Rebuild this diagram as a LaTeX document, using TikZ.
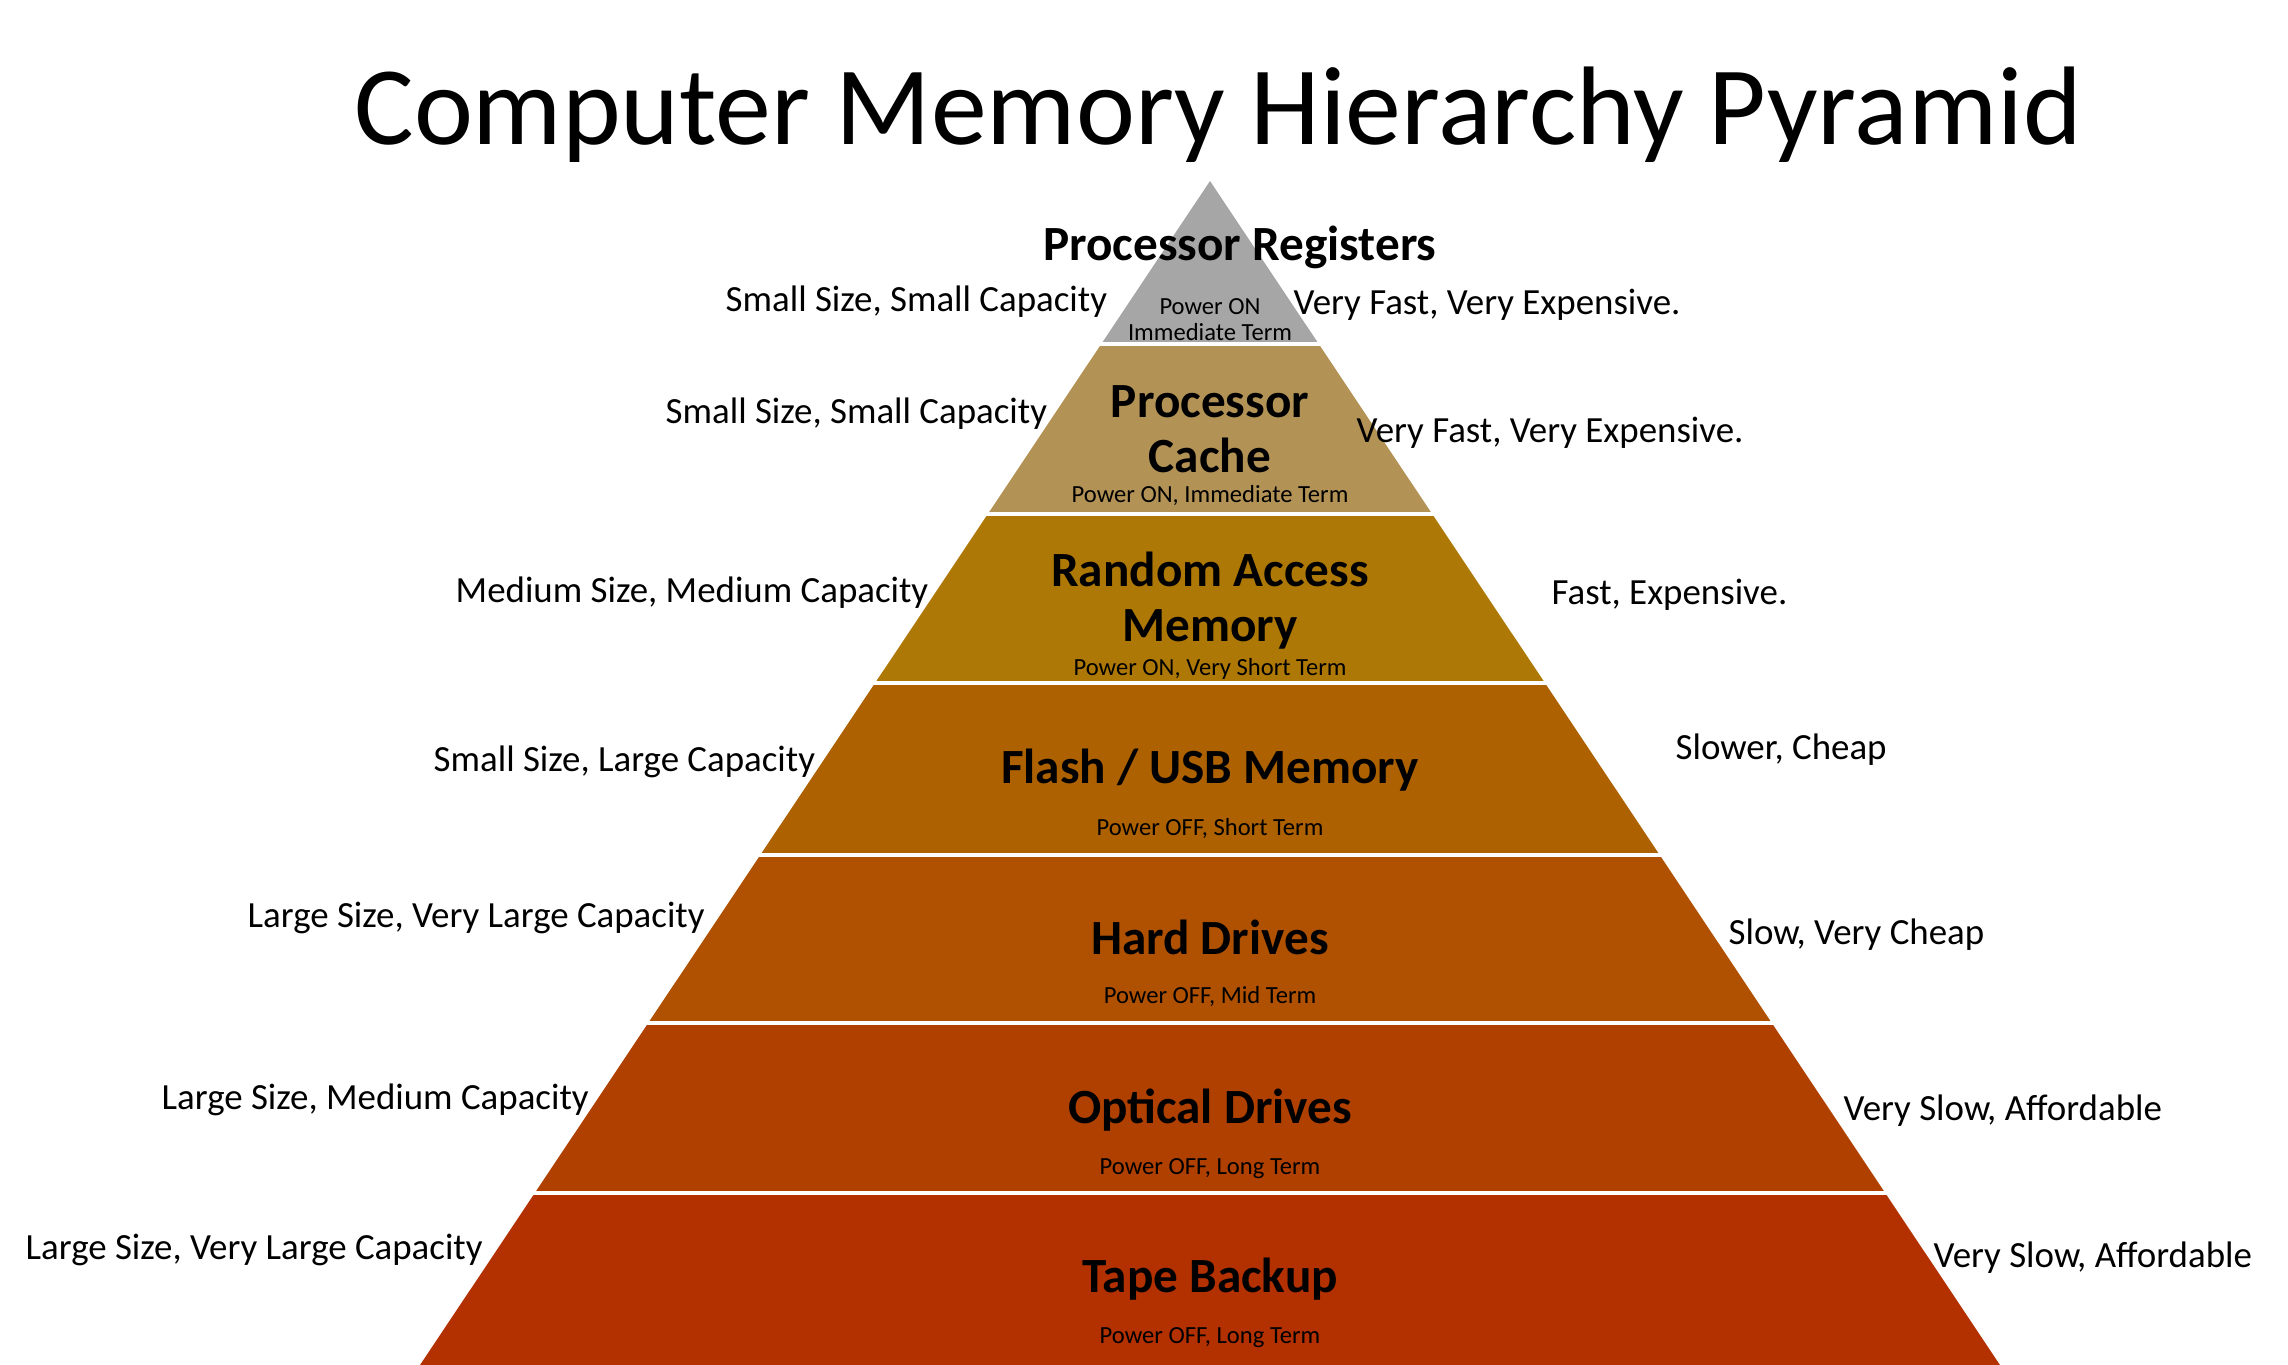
\documentclass[tikz,border=0pt]{standalone}
\usepackage{fontspec}
\setmainfont{Carlito}
\usepackage{xcolor}
\usetikzlibrary{positioning, calc}

\definecolor{regcol}{HTML}{A6A6A6}
\definecolor{cachecol}{HTML}{B39355}
\definecolor{ramcol}{HTML}{AE7806}
\definecolor{flashcol}{HTML}{AE6101}
\definecolor{hddcol}{HTML}{AF5100}
\definecolor{opticalcol}{HTML}{B04000}
\definecolor{tapecol}{HTML}{B33000}

\begin{document}
\begin{tikzpicture}[
  x=1cm, y=-1cm,
  titlelabel/.style={font=\fontsize{31.8}{38}\selectfont, inner sep=0pt, anchor=base},
  layerlabel/.style={font=\fontsize{14}{15.4}\selectfont\bfseries,
    align=center, inner sep=0pt, anchor=base},
  termlabel/.style={font=\fontsize{7}{7.3}\selectfont,
    align=center, inner sep=0pt, anchor=base},
  sidelabel/.style={font=\fontsize{10.5}{12}\selectfont,
    inner sep=0pt, anchor=base west},
  gapline/.style={draw=white, line width=0.9pt}
]
\useasboundingbox (0,0) rectangle (22.88,13.65);

%% ==== Pyramid bands ====
\foreach \t/\b/\c in {1.81/3.44/regcol, 3.44/5.14/cachecol, 5.14/6.83/ramcol,
    6.83/8.55/flashcol, 8.55/10.23/hddcol, 10.23/11.93/opticalcol, 11.93/13.65/tapecol}
  \fill[\c] ({12.10-(\t-1.81)*0.6672}, \t) -- ({12.10+(\t-1.81)*0.6672}, \t)
    -- ({12.10+(\b-1.81)*0.6672}, \b) -- ({12.10-(\b-1.81)*0.6672}, \b) -- cycle;

%% ==== White gaps between bands ====
\foreach \y in {3.44, 5.14, 6.83, 8.55, 10.23, 11.93}
  \draw[gapline] ({12.05-(\y-1.81)*0.6672}, \y) -- ({12.15+(\y-1.81)*0.6672}, \y);

%% ==== Title ====
\node[titlelabel] (title) at (12.18, 1.44) {Computer Memory Hierarchy Pyramid};

%% ==== Layer labels (base = last line) ====
\node[layerlabel] (regs)        at (12.40, 2.60)  {Processor Registers};
\node[termlabel]  (regsterm)    at (12.10, 3.40)  {Power ON\\Immediate Term};
\node[layerlabel] (cache)       at (12.10, 4.72)  {Processor\\Cache};
\node[termlabel]  (cacheterm)   at (12.10, 5.02)  {Power ON, Immediate Term};
\node[layerlabel] (ram)         at (12.10, 6.41)  {Random Access\\Memory};
\node[termlabel]  (ramterm)     at (12.10, 6.75)  {Power ON, Very Short Term};
\node[layerlabel] (flash)       at (12.10, 7.83)  {Flash / USB Memory};
\node[termlabel]  (flashterm)   at (12.10, 8.35)  {Power OFF, Short Term};
\node[layerlabel] (hdd)         at (12.10, 9.54)  {Hard Drives};
\node[termlabel]  (hddterm)     at (12.10, 10.03) {Power OFF, Mid Term};
\node[layerlabel] (optical)     at (12.10, 11.23) {Optical Drives};
\node[termlabel]  (opticalterm) at (12.10, 11.74) {Power OFF, Long Term};
\node[layerlabel] (tape)        at (12.10, 12.92) {Tape Backup};
\node[termlabel]  (tapeterm)    at (12.10, 13.43) {Power OFF, Long Term};

%% ==== Size / capacity (left) ====
\node[sidelabel] (regssize)    at (7.25, 3.11)  {Small Size, Small Capacity};
\node[sidelabel] (cachesize)   at (6.65, 4.23)  {Small Size, Small Capacity};
\node[sidelabel] (ramsize)     at (4.55, 6.02)  {Medium Size, Medium Capacity};
\node[sidelabel] (flashsize)   at (4.33, 7.71)  {Small Size, Large Capacity};
\node[sidelabel] (hddsize)     at (2.47, 9.27)  {Large Size, Very Large Capacity};
\node[sidelabel] (opticalsize) at (1.61, 11.09) {Large Size, Medium Capacity};
\node[sidelabel] (tapesize)    at (0.25, 12.59) {Large Size, Very Large Capacity};

%% ==== Speed / cost (right) ====
\node[sidelabel] (regsspeed)    at (12.93, 3.14)  {Very Fast, Very Expensive.};
\node[sidelabel] (cachespeed)   at (13.56, 4.42)  {Very Fast, Very Expensive.};
\node[sidelabel] (ramspeed)     at (15.51, 6.04)  {Fast, Expensive.};
\node[sidelabel] (flashspeed)   at (16.75, 7.59)  {Slower, Cheap};
\node[sidelabel] (hddspeed)     at (17.28, 9.44)  {Slow, Very Cheap};
\node[sidelabel] (opticalspeed) at (18.43, 11.20) {Very Slow, Affordable};
\node[sidelabel] (tapespeed)    at (19.33, 12.67) {Very Slow, Affordable};

\end{tikzpicture}
\end{document}
